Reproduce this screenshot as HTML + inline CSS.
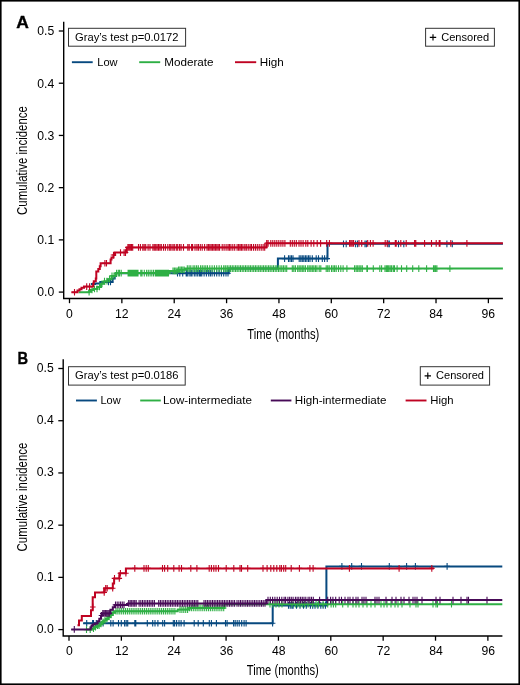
<!DOCTYPE html><html><head><meta charset="utf-8"><style>html,body{margin:0;padding:0;background:#fff;}svg{display:block;will-change:transform;}</style></head><body>
<svg width="520" height="685" viewBox="0 0 520 685" font-family='"Liberation Sans", sans-serif' fill="#000">
<rect x="0" y="0" width="520" height="685" fill="#fff"/>
<rect x="0.8" y="0.8" width="518.4" height="683.4" fill="none" stroke="#000" stroke-width="1.6"/>
<text x="16.2" y="27.5" font-size="17.2" font-weight="bold" textLength="12.6" lengthAdjust="spacingAndGlyphs" stroke="#000" stroke-width="0.35">A</text>
<path d="M63.7 21.7V298.5H502.9" fill="none" stroke="#000" stroke-width="1.4"/>
<path d="M58.8 292.10H63.7" stroke="#000" stroke-width="1.3"/>
<text x="54.3" y="296.40" font-size="12.2" text-anchor="end">0.0</text>
<path d="M58.8 239.88H63.7" stroke="#000" stroke-width="1.3"/>
<text x="54.3" y="244.18" font-size="12.2" text-anchor="end">0.1</text>
<path d="M58.8 187.66H63.7" stroke="#000" stroke-width="1.3"/>
<text x="54.3" y="191.96" font-size="12.2" text-anchor="end">0.2</text>
<path d="M58.8 135.44H63.7" stroke="#000" stroke-width="1.3"/>
<text x="54.3" y="139.74" font-size="12.2" text-anchor="end">0.3</text>
<path d="M58.8 83.22H63.7" stroke="#000" stroke-width="1.3"/>
<text x="54.3" y="87.52" font-size="12.2" text-anchor="end">0.4</text>
<path d="M58.8 31.00H63.7" stroke="#000" stroke-width="1.3"/>
<text x="54.3" y="35.30" font-size="12.2" text-anchor="end">0.5</text>
<path d="M69.50 298.5V303.2" stroke="#000" stroke-width="1.3"/>
<text x="69.50" y="317.6" font-size="12.2" text-anchor="middle">0</text>
<path d="M121.86 298.5V303.2" stroke="#000" stroke-width="1.3"/>
<text x="121.86" y="317.6" font-size="12.2" text-anchor="middle">12</text>
<path d="M174.22 298.5V303.2" stroke="#000" stroke-width="1.3"/>
<text x="174.22" y="317.6" font-size="12.2" text-anchor="middle">24</text>
<path d="M226.58 298.5V303.2" stroke="#000" stroke-width="1.3"/>
<text x="226.58" y="317.6" font-size="12.2" text-anchor="middle">36</text>
<path d="M278.94 298.5V303.2" stroke="#000" stroke-width="1.3"/>
<text x="278.94" y="317.6" font-size="12.2" text-anchor="middle">48</text>
<path d="M331.30 298.5V303.2" stroke="#000" stroke-width="1.3"/>
<text x="331.30" y="317.6" font-size="12.2" text-anchor="middle">60</text>
<path d="M383.66 298.5V303.2" stroke="#000" stroke-width="1.3"/>
<text x="383.66" y="317.6" font-size="12.2" text-anchor="middle">72</text>
<path d="M436.02 298.5V303.2" stroke="#000" stroke-width="1.3"/>
<text x="436.02" y="317.6" font-size="12.2" text-anchor="middle">84</text>
<path d="M488.38 298.5V303.2" stroke="#000" stroke-width="1.3"/>
<text x="488.38" y="317.6" font-size="12.2" text-anchor="middle">96</text>
<text x="283.3" y="338.7" font-size="14.5" text-anchor="middle" textLength="71.9" lengthAdjust="spacingAndGlyphs">Time (months)</text>
<text transform="translate(27.0 160.5) rotate(-90)" font-size="14.6" text-anchor="middle" textLength="108.8" lengthAdjust="spacingAndGlyphs">Cumulative incidence</text>
<rect x="68.5" y="28.3" width="117.1" height="17.900000000000002" fill="#fff" stroke="#333" stroke-width="1"/>
<text x="75.0" y="40.7" font-size="11.6" textLength="103.5" lengthAdjust="spacingAndGlyphs">Gray’s test p=0.0172</text>
<rect x="425.6" y="28.3" width="68.79999999999995" height="17.900000000000002" fill="#fff" stroke="#333" stroke-width="1"/>
<path d="M429.8 37.4h6.4M433.0 34.199999999999996v6.4" stroke="#000" stroke-width="1.15"/>
<text x="441.2" y="40.7" font-size="11.6" textLength="48.0" lengthAdjust="spacingAndGlyphs">Censored</text>
<path d="M71.9 62.2H92.7" stroke="#07497f" stroke-width="1.9"/>
<text x="97.3" y="66.30" font-size="11.6" textLength="20.3" lengthAdjust="spacingAndGlyphs">Low</text>
<path d="M139.2 62.2H160.2" stroke="#2eaf44" stroke-width="1.9"/>
<text x="164.2" y="66.30" font-size="11.6" textLength="49.3" lengthAdjust="spacingAndGlyphs">Moderate</text>
<path d="M235.0 62.2H256.2" stroke="#bf0322" stroke-width="1.9"/>
<text x="259.8" y="66.30" font-size="11.6" textLength="24.0" lengthAdjust="spacingAndGlyphs">High</text>
<path d="M90.9 284.1 L95.1 284.1 L95.1 283.6 L100.3 283.6 L100.3 282.0 L112.6 282.0 L112.6 278.5 L114.7 278.5 L114.7 275.9 L116.0 275.9 L116.0 273.2 L228.8 273.2 L228.8 268.6 L277.9 268.6 L277.9 258.6 L327.5 258.6 L327.5 243.8 L502.9 243.8" fill="none" stroke="#07497f" stroke-width="2.0" stroke-linejoin="miter"/><path d="M108.5 278.6v6.7M105.7 282.0h5.6M110.5 278.6v6.7M107.7 282.0h5.6M177.5 269.8v6.7M174.7 273.2h5.6M179.8 269.8v6.7M177.0 273.2h5.6M182.7 269.8v6.7M179.9 273.2h5.6M186.2 269.8v6.7M183.4 273.2h5.6M187.3 269.8v6.7M184.5 273.2h5.6M189.1 269.8v6.7M186.3 273.2h5.6M190.8 269.8v6.7M188.0 273.2h5.6M192.0 269.8v6.7M189.2 273.2h5.6M194.3 269.8v6.7M191.5 273.2h5.6M196.0 269.8v6.7M193.2 273.2h5.6M197.7 269.8v6.7M194.9 273.2h5.6M199.4 269.8v6.7M196.6 273.2h5.6M200.6 269.8v6.7M197.8 273.2h5.6M201.8 269.8v6.7M199.0 273.2h5.6M204.1 269.8v6.7M201.3 273.2h5.6M206.4 269.8v6.7M203.6 273.2h5.6M208.7 269.8v6.7M205.9 273.2h5.6M210.4 269.8v6.7M207.6 273.2h5.6M212.1 269.8v6.7M209.3 273.2h5.6M214.4 269.8v6.7M211.6 273.2h5.6M216.7 269.8v6.7M213.9 273.2h5.6M219.1 269.8v6.7M216.3 273.2h5.6M221.4 269.8v6.7M218.6 273.2h5.6M223.7 269.8v6.7M220.9 273.2h5.6M226.0 269.8v6.7M223.2 273.2h5.6M228.0 269.8v6.7M225.2 273.2h5.6M284.6 255.3v6.7M281.8 258.6h5.6M288.5 255.3v6.7M285.7 258.6h5.6M290.0 255.3v6.7M287.2 258.6h5.6M291.5 255.3v6.7M288.7 258.6h5.6M293.0 255.3v6.7M290.2 258.6h5.6M299.2 255.3v6.7M296.4 258.6h5.6M300.8 255.3v6.7M298.0 258.6h5.6M302.3 255.3v6.7M299.5 258.6h5.6M303.8 255.3v6.7M301.0 258.6h5.6M305.4 255.3v6.7M302.6 258.6h5.6M306.9 255.3v6.7M304.1 258.6h5.6M308.5 255.3v6.7M305.7 258.6h5.6M310.0 255.3v6.7M307.2 258.6h5.6M312.3 255.3v6.7M309.5 258.6h5.6M316.2 255.3v6.7M313.4 258.6h5.6M318.5 255.3v6.7M315.7 258.6h5.6M322.3 255.3v6.7M319.5 258.6h5.6M324.6 255.3v6.7M321.8 258.6h5.6M327.2 255.3v6.7M324.4 258.6h5.6M343.5 240.5v6.7M340.7 243.8h5.6M346.2 240.5v6.7M343.4 243.8h5.6M355.6 240.5v6.7M352.8 243.8h5.6M357.6 240.5v6.7M354.8 243.8h5.6M365.0 240.5v6.7M362.2 243.8h5.6M366.4 240.5v6.7M363.6 243.8h5.6M387.9 240.5v6.7M385.1 243.8h5.6M389.3 240.5v6.7M386.5 243.8h5.6M398.5 240.5v6.7M395.7 243.8h5.6M403.8 240.5v6.7M401.0 243.8h5.6M446.9 240.5v6.7M444.1 243.8h5.6M452.3 240.5v6.7M449.5 243.8h5.6" stroke="#07497f" stroke-width="1.1"/>
<path d="M78.7 292.3 L89.2 292.3 L89.2 291.0 L91.0 291.0 L91.0 290.0 L93.8 290.0 L93.8 289.0 L97.1 289.0 L97.1 287.0 L101.0 287.0 L101.0 283.8 L104.3 283.8 L104.3 281.2 L107.5 281.2 L107.5 279.2 L111.5 279.2 L111.5 275.9 L115.4 275.9 L115.4 273.5 L116.5 273.5 L116.5 273.1 L169.2 273.1 L169.2 271.0 L178.5 271.0 L178.5 269.8 L185.5 269.8 L185.5 268.6 L502.9 268.6" fill="none" stroke="#2eaf44" stroke-width="2.0" stroke-linejoin="miter"/><path d="M89.1 288.9v6.7M86.3 292.3h5.6M92.0 286.6v6.7M89.2 290.0h5.6M94.5 285.6v6.7M91.7 289.0h5.6M97.0 285.6v6.7M94.2 289.0h5.6M99.5 283.6v6.7M96.7 287.0h5.6M102.0 280.4v6.7M99.2 283.8h5.6M104.5 277.8v6.7M101.7 281.2h5.6M107.0 277.8v6.7M104.2 281.2h5.6M109.5 275.8v6.7M106.7 279.2h5.6M112.0 272.5v6.7M109.2 275.9h5.6M114.0 272.5v6.7M111.2 275.9h5.6M116.6 269.8v6.7M113.8 273.1h5.6M118.3 269.8v6.7M115.5 273.1h5.6M119.5 269.8v6.7M116.7 273.1h5.6M121.2 269.8v6.7M118.4 273.1h5.6M128.1 269.8v6.7M125.3 273.1h5.6M129.2 269.8v6.7M126.4 273.1h5.6M130.3 269.8v6.7M127.5 273.1h5.6M131.4 269.8v6.7M128.6 273.1h5.6M132.5 269.8v6.7M129.7 273.1h5.6M133.6 269.8v6.7M130.8 273.1h5.6M134.7 269.8v6.7M131.9 273.1h5.6M135.8 269.8v6.7M133.0 273.1h5.6M136.9 269.8v6.7M134.1 273.1h5.6M138.0 269.8v6.7M135.2 273.1h5.6M140.8 269.8v6.7M138.0 273.1h5.6M142.0 269.8v6.7M139.2 273.1h5.6M144.3 269.8v6.7M141.5 273.1h5.6M146.6 269.8v6.7M143.8 273.1h5.6M148.3 269.8v6.7M145.5 273.1h5.6M150.1 269.8v6.7M147.3 273.1h5.6M151.8 269.8v6.7M149.0 273.1h5.6M153.5 269.8v6.7M150.7 273.1h5.6M155.3 269.8v6.7M152.5 273.1h5.6M156.4 269.8v6.7M153.6 273.1h5.6M157.5 269.8v6.7M154.7 273.1h5.6M158.6 269.8v6.7M155.8 273.1h5.6M159.7 269.8v6.7M156.9 273.1h5.6M160.8 269.8v6.7M158.0 273.1h5.6M161.9 269.8v6.7M159.1 273.1h5.6M163.0 269.8v6.7M160.2 273.1h5.6M164.1 269.8v6.7M161.3 273.1h5.6M165.2 269.8v6.7M162.4 273.1h5.6M166.3 269.8v6.7M163.5 273.1h5.6M167.4 269.8v6.7M164.6 273.1h5.6M168.5 269.8v6.7M165.7 273.1h5.6M173.0 267.6v6.7M170.2 271.0h5.6M174.4 267.6v6.7M171.6 271.0h5.6M175.8 267.6v6.7M173.0 271.0h5.6M177.2 267.6v6.7M174.4 271.0h5.6M178.6 266.4v6.7M175.8 269.8h5.6M180.0 266.4v6.7M177.2 269.8h5.6M181.4 266.4v6.7M178.6 269.8h5.6M182.8 266.4v6.7M180.0 269.8h5.6M184.2 266.4v6.7M181.4 269.8h5.6M187.3 265.2v6.7M184.5 268.6h5.6M189.1 265.2v6.7M186.3 268.6h5.6M190.8 265.2v6.7M188.0 268.6h5.6M193.1 265.2v6.7M190.3 268.6h5.6M194.8 265.2v6.7M192.0 268.6h5.6M196.6 265.2v6.7M193.8 268.6h5.6M198.3 265.2v6.7M195.5 268.6h5.6M200.6 265.2v6.7M197.8 268.6h5.6M202.3 265.2v6.7M199.5 268.6h5.6M204.1 265.2v6.7M201.3 268.6h5.6M205.8 265.2v6.7M203.0 268.6h5.6M207.5 265.2v6.7M204.7 268.6h5.6M209.8 265.2v6.7M207.0 268.6h5.6M212.1 265.2v6.7M209.3 268.6h5.6M214.4 265.2v6.7M211.6 268.6h5.6M216.7 265.2v6.7M213.9 268.6h5.6M219.1 265.2v6.7M216.3 268.6h5.6M221.4 265.2v6.7M218.6 268.6h5.6M223.7 265.2v6.7M220.9 268.6h5.6M224.0 265.2v6.7M221.2 268.6h5.6M225.7 265.2v6.7M222.8 268.6h5.6M227.3 265.2v6.7M224.5 268.6h5.6M229.0 265.2v6.7M226.2 268.6h5.6M230.6 265.2v6.7M227.8 268.6h5.6M232.3 265.2v6.7M229.5 268.6h5.6M233.9 265.2v6.7M231.1 268.6h5.6M235.6 265.2v6.7M232.8 268.6h5.6M237.2 265.2v6.7M234.4 268.6h5.6M238.9 265.2v6.7M236.1 268.6h5.6M240.5 265.2v6.7M237.7 268.6h5.6M242.2 265.2v6.7M239.4 268.6h5.6M243.8 265.2v6.7M241.0 268.6h5.6M245.5 265.2v6.7M242.7 268.6h5.6M247.1 265.2v6.7M244.3 268.6h5.6M248.8 265.2v6.7M246.0 268.6h5.6M250.4 265.2v6.7M247.6 268.6h5.6M252.1 265.2v6.7M249.3 268.6h5.6M253.7 265.2v6.7M250.9 268.6h5.6M255.4 265.2v6.7M252.6 268.6h5.6M257.0 265.2v6.7M254.2 268.6h5.6M258.7 265.2v6.7M255.9 268.6h5.6M260.3 265.2v6.7M257.5 268.6h5.6M262.0 265.2v6.7M259.2 268.6h5.6M263.6 265.2v6.7M260.8 268.6h5.6M265.3 265.2v6.7M262.5 268.6h5.6M266.9 265.2v6.7M264.1 268.6h5.6M268.6 265.2v6.7M265.8 268.6h5.6M270.2 265.2v6.7M267.4 268.6h5.6M271.9 265.2v6.7M269.1 268.6h5.6M273.5 265.2v6.7M270.7 268.6h5.6M275.2 265.2v6.7M272.4 268.6h5.6M276.8 265.2v6.7M274.0 268.6h5.6M278.5 265.2v6.7M275.7 268.6h5.6M280.1 265.2v6.7M277.3 268.6h5.6M281.8 265.2v6.7M279.0 268.6h5.6M283.4 265.2v6.7M280.6 268.6h5.6M285.1 265.2v6.7M282.3 268.6h5.6M286.7 265.2v6.7M283.9 268.6h5.6M292.3 265.2v6.7M289.5 268.6h5.6M293.8 265.2v6.7M291.0 268.6h5.6M295.4 265.2v6.7M292.6 268.6h5.6M297.7 265.2v6.7M294.9 268.6h5.6M299.2 265.2v6.7M296.4 268.6h5.6M300.8 265.2v6.7M298.0 268.6h5.6M302.3 265.2v6.7M299.5 268.6h5.6M303.8 265.2v6.7M301.0 268.6h5.6M305.4 265.2v6.7M302.6 268.6h5.6M307.7 265.2v6.7M304.9 268.6h5.6M309.2 265.2v6.7M306.4 268.6h5.6M310.8 265.2v6.7M308.0 268.6h5.6M312.3 265.2v6.7M309.5 268.6h5.6M313.8 265.2v6.7M311.0 268.6h5.6M315.4 265.2v6.7M312.6 268.6h5.6M316.9 265.2v6.7M314.1 268.6h5.6M319.2 265.2v6.7M316.4 268.6h5.6M320.8 265.2v6.7M318.0 268.6h5.6M326.2 265.2v6.7M323.4 268.6h5.6M327.7 265.2v6.7M324.9 268.6h5.6M329.2 265.2v6.7M326.4 268.6h5.6M331.5 265.2v6.7M328.7 268.6h5.6M333.1 265.2v6.7M330.3 268.6h5.6M334.6 265.2v6.7M331.8 268.6h5.6M336.2 265.2v6.7M333.4 268.6h5.6M338.5 265.2v6.7M335.7 268.6h5.6M340.8 265.2v6.7M338.0 268.6h5.6M343.1 265.2v6.7M340.3 268.6h5.6M346.9 265.2v6.7M344.1 268.6h5.6M354.6 265.2v6.7M351.8 268.6h5.6M356.2 265.2v6.7M353.4 268.6h5.6M357.7 265.2v6.7M354.9 268.6h5.6M359.2 265.2v6.7M356.4 268.6h5.6M360.8 265.2v6.7M358.0 268.6h5.6M362.3 265.2v6.7M359.5 268.6h5.6M366.9 265.2v6.7M364.1 268.6h5.6M367.4 265.2v6.7M364.6 268.6h5.6M373.3 265.2v6.7M370.5 268.6h5.6M379.8 265.2v6.7M377.0 268.6h5.6M381.6 265.2v6.7M378.8 268.6h5.6M385.0 265.2v6.7M382.2 268.6h5.6M386.4 265.2v6.7M383.6 268.6h5.6M387.6 265.2v6.7M384.8 268.6h5.6M388.8 265.2v6.7M386.0 268.6h5.6M390.2 265.2v6.7M387.4 268.6h5.6M391.6 265.2v6.7M388.8 268.6h5.6M393.3 265.2v6.7M390.5 268.6h5.6M394.5 265.2v6.7M391.7 268.6h5.6M397.1 265.2v6.7M394.3 268.6h5.6M401.5 265.2v6.7M398.7 268.6h5.6M406.7 265.2v6.7M403.9 268.6h5.6M412.7 265.2v6.7M409.9 268.6h5.6M418.8 265.2v6.7M416.0 268.6h5.6M426.6 265.2v6.7M423.8 268.6h5.6M433.5 265.2v6.7M430.7 268.6h5.6M434.3 265.2v6.7M431.5 268.6h5.6M435.6 265.2v6.7M432.8 268.6h5.6M436.9 265.2v6.7M434.1 268.6h5.6M449.9 265.2v6.7M447.1 268.6h5.6" stroke="#2eaf44" stroke-width="1.1"/>
<path d="M71.4 292.3 L77.5 292.3 L77.5 290.6 L79.5 290.6 L79.5 289.2 L81.5 289.2 L81.5 287.8 L84.0 287.8 L84.0 286.6 L93.2 286.6 L93.2 283.5 L93.8 283.5 L93.8 281.2 L95.8 281.2 L95.8 278.5 L96.3 278.5 L96.3 271.5 L98.3 271.5 L98.3 269.0 L99.8 269.0 L99.8 266.2 L100.6 266.2 L100.6 263.3 L110.6 263.3 L110.6 259.5 L111.5 259.5 L111.5 257.5 L113.5 257.5 L113.5 255.0 L115.0 255.0 L115.0 252.5 L126.8 252.5 L126.8 247.4 L266.4 247.4 L266.4 243.3 L502.9 243.3" fill="none" stroke="#bf0322" stroke-width="2.0" stroke-linejoin="miter"/><path d="M74.5 288.9v6.7M71.7 292.3h5.6M86.7 283.2v6.7M83.9 286.6h5.6M89.6 283.2v6.7M86.8 286.6h5.6M104.9 259.9v6.7M102.1 263.3h5.6M106.5 259.9v6.7M103.7 263.3h5.6M113.5 251.7v6.7M110.7 255.0h5.6M120.5 249.2v6.7M117.7 252.5h5.6M124.1 249.2v6.7M121.3 252.5h5.6M125.5 249.2v6.7M122.7 252.5h5.6M127.9 244.1v6.7M125.1 247.4h5.6M129.1 244.1v6.7M126.3 247.4h5.6M130.3 244.1v6.7M127.5 247.4h5.6M131.5 244.1v6.7M128.7 247.4h5.6M132.7 244.1v6.7M129.9 247.4h5.6M138.5 244.1v6.7M135.7 247.4h5.6M140.4 244.1v6.7M137.6 247.4h5.6M142.8 244.1v6.7M140.0 247.4h5.6M144.2 244.1v6.7M141.4 247.4h5.6M145.7 244.1v6.7M142.9 247.4h5.6M148.1 244.1v6.7M145.3 247.4h5.6M150.0 244.1v6.7M147.2 247.4h5.6M152.9 244.1v6.7M150.1 247.4h5.6M154.3 244.1v6.7M151.5 247.4h5.6M155.7 244.1v6.7M152.9 247.4h5.6M157.1 244.1v6.7M154.3 247.4h5.6M158.5 244.1v6.7M155.7 247.4h5.6M159.9 244.1v6.7M157.1 247.4h5.6M161.3 244.1v6.7M158.5 247.4h5.6M163.5 244.1v6.7M160.7 247.4h5.6M165.4 244.1v6.7M162.6 247.4h5.6M167.8 244.1v6.7M165.0 247.4h5.6M169.7 244.1v6.7M166.9 247.4h5.6M171.0 244.1v6.7M168.2 247.4h5.6M172.9 244.1v6.7M170.1 247.4h5.6M174.3 244.1v6.7M171.5 247.4h5.6M176.3 244.1v6.7M173.5 247.4h5.6M177.7 244.1v6.7M174.9 247.4h5.6M179.6 244.1v6.7M176.8 247.4h5.6M181.1 244.1v6.7M178.3 247.4h5.6M183.5 244.1v6.7M180.7 247.4h5.6M187.8 244.1v6.7M185.0 247.4h5.6M189.2 244.1v6.7M186.4 247.4h5.6M191.6 244.1v6.7M188.8 247.4h5.6M192.6 244.1v6.7M189.8 247.4h5.6M195.0 244.1v6.7M192.2 247.4h5.6M196.9 244.1v6.7M194.1 247.4h5.6M198.4 244.1v6.7M195.6 247.4h5.6M200.3 244.1v6.7M197.5 247.4h5.6M202.2 244.1v6.7M199.4 247.4h5.6M204.6 244.1v6.7M201.8 247.4h5.6M207.0 244.1v6.7M204.2 247.4h5.6M208.4 244.1v6.7M205.6 247.4h5.6M209.8 244.1v6.7M207.0 247.4h5.6M211.2 244.1v6.7M208.4 247.4h5.6M212.6 244.1v6.7M209.8 247.4h5.6M214.0 244.1v6.7M211.2 247.4h5.6M215.4 244.1v6.7M212.6 247.4h5.6M216.8 244.1v6.7M214.0 247.4h5.6M218.2 244.1v6.7M215.4 247.4h5.6M219.6 244.1v6.7M216.8 247.4h5.6M222.2 244.1v6.7M219.4 247.4h5.6M224.1 244.1v6.7M221.3 247.4h5.6M226.1 244.1v6.7M223.3 247.4h5.6M228.0 244.1v6.7M225.2 247.4h5.6M229.4 244.1v6.7M226.6 247.4h5.6M230.9 244.1v6.7M228.1 247.4h5.6M232.8 244.1v6.7M230.0 247.4h5.6M234.7 244.1v6.7M231.9 247.4h5.6M237.1 244.1v6.7M234.3 247.4h5.6M238.6 244.1v6.7M235.8 247.4h5.6M240.0 244.1v6.7M237.2 247.4h5.6M241.4 244.1v6.7M238.6 247.4h5.6M242.9 244.1v6.7M240.1 247.4h5.6M244.8 244.1v6.7M242.0 247.4h5.6M246.3 244.1v6.7M243.5 247.4h5.6M248.2 244.1v6.7M245.4 247.4h5.6M250.1 244.1v6.7M247.3 247.4h5.6M251.5 244.1v6.7M248.7 247.4h5.6M253.5 244.1v6.7M250.7 247.4h5.6M255.4 244.1v6.7M252.6 247.4h5.6M257.3 244.1v6.7M254.5 247.4h5.6M259.2 244.1v6.7M256.4 247.4h5.6M261.2 244.1v6.7M258.4 247.4h5.6M263.1 244.1v6.7M260.3 247.4h5.6M264.7 244.1v6.7M261.9 247.4h5.6M266.7 240.0v6.7M263.9 243.3h5.6M268.1 240.0v6.7M265.3 243.3h5.6M270.8 240.0v6.7M268.0 243.3h5.6M272.8 240.0v6.7M270.0 243.3h5.6M274.8 240.0v6.7M272.0 243.3h5.6M276.8 240.0v6.7M274.0 243.3h5.6M278.8 240.0v6.7M276.0 243.3h5.6M280.9 240.0v6.7M278.1 243.3h5.6M282.9 240.0v6.7M280.1 243.3h5.6M284.9 240.0v6.7M282.1 243.3h5.6M290.3 240.0v6.7M287.5 243.3h5.6M292.3 240.0v6.7M289.5 243.3h5.6M294.3 240.0v6.7M291.5 243.3h5.6M296.3 240.0v6.7M293.5 243.3h5.6M299.0 240.0v6.7M296.2 243.3h5.6M301.0 240.0v6.7M298.2 243.3h5.6M303.1 240.0v6.7M300.3 243.3h5.6M305.8 240.0v6.7M303.0 243.3h5.6M307.8 240.0v6.7M305.0 243.3h5.6M311.1 240.0v6.7M308.3 243.3h5.6M313.8 240.0v6.7M311.0 243.3h5.6M317.2 240.0v6.7M314.4 243.3h5.6M320.6 240.0v6.7M317.8 243.3h5.6M326.7 240.0v6.7M323.9 243.3h5.6M329.4 240.0v6.7M326.6 243.3h5.6M349.6 240.0v6.7M346.8 243.3h5.6M350.9 240.0v6.7M348.1 243.3h5.6M352.2 240.0v6.7M349.4 243.3h5.6M353.6 240.0v6.7M350.8 243.3h5.6M359.0 240.0v6.7M356.2 243.3h5.6M361.7 240.0v6.7M358.9 243.3h5.6M367.7 240.0v6.7M364.9 243.3h5.6M370.4 240.0v6.7M367.6 243.3h5.6M373.1 240.0v6.7M370.3 243.3h5.6M385.2 240.0v6.7M382.4 243.3h5.6M387.2 240.0v6.7M384.4 243.3h5.6M395.3 240.0v6.7M392.5 243.3h5.6M396.2 240.0v6.7M393.4 243.3h5.6M400.8 240.0v6.7M398.0 243.3h5.6M406.2 240.0v6.7M403.4 243.3h5.6M414.6 240.0v6.7M411.8 243.3h5.6M415.8 240.0v6.7M413.0 243.3h5.6M424.6 240.0v6.7M421.8 243.3h5.6M431.5 240.0v6.7M428.7 243.3h5.6M436.2 240.0v6.7M433.4 243.3h5.6M439.2 240.0v6.7M436.4 243.3h5.6M440.0 240.0v6.7M437.2 243.3h5.6M450.8 240.0v6.7M448.0 243.3h5.6M466.9 240.0v6.7M464.1 243.3h5.6" stroke="#bf0322" stroke-width="1.1"/>
<text x="17.5" y="363.6" font-size="17.2" font-weight="bold" textLength="10.6" lengthAdjust="spacingAndGlyphs" stroke="#000" stroke-width="0.35">B</text>
<path d="M63.2 359.2V636.0H502.4" fill="none" stroke="#000" stroke-width="1.4"/>
<path d="M58.3 629.60H63.2" stroke="#000" stroke-width="1.3"/>
<text x="53.8" y="633.10" font-size="12.2" text-anchor="end">0.0</text>
<path d="M58.3 577.38H63.2" stroke="#000" stroke-width="1.3"/>
<text x="53.8" y="580.88" font-size="12.2" text-anchor="end">0.1</text>
<path d="M58.3 525.16H63.2" stroke="#000" stroke-width="1.3"/>
<text x="53.8" y="528.66" font-size="12.2" text-anchor="end">0.2</text>
<path d="M58.3 472.94H63.2" stroke="#000" stroke-width="1.3"/>
<text x="53.8" y="476.44" font-size="12.2" text-anchor="end">0.3</text>
<path d="M58.3 420.72H63.2" stroke="#000" stroke-width="1.3"/>
<text x="53.8" y="424.22" font-size="12.2" text-anchor="end">0.4</text>
<path d="M58.3 368.50H63.2" stroke="#000" stroke-width="1.3"/>
<text x="53.8" y="372.00" font-size="12.2" text-anchor="end">0.5</text>
<path d="M69.00 636.0V640.7" stroke="#000" stroke-width="1.3"/>
<text x="69.40" y="655.1" font-size="12.2" text-anchor="middle">0</text>
<path d="M121.36 636.0V640.7" stroke="#000" stroke-width="1.3"/>
<text x="121.76" y="655.1" font-size="12.2" text-anchor="middle">12</text>
<path d="M173.72 636.0V640.7" stroke="#000" stroke-width="1.3"/>
<text x="174.12" y="655.1" font-size="12.2" text-anchor="middle">24</text>
<path d="M226.08 636.0V640.7" stroke="#000" stroke-width="1.3"/>
<text x="226.48" y="655.1" font-size="12.2" text-anchor="middle">36</text>
<path d="M278.44 636.0V640.7" stroke="#000" stroke-width="1.3"/>
<text x="278.84" y="655.1" font-size="12.2" text-anchor="middle">48</text>
<path d="M330.80 636.0V640.7" stroke="#000" stroke-width="1.3"/>
<text x="331.20" y="655.1" font-size="12.2" text-anchor="middle">60</text>
<path d="M383.16 636.0V640.7" stroke="#000" stroke-width="1.3"/>
<text x="383.56" y="655.1" font-size="12.2" text-anchor="middle">72</text>
<path d="M435.52 636.0V640.7" stroke="#000" stroke-width="1.3"/>
<text x="435.92" y="655.1" font-size="12.2" text-anchor="middle">84</text>
<path d="M487.88 636.0V640.7" stroke="#000" stroke-width="1.3"/>
<text x="488.28" y="655.1" font-size="12.2" text-anchor="middle">96</text>
<text x="282.8" y="674.9000000000001" font-size="14.5" text-anchor="middle" textLength="71.9" lengthAdjust="spacingAndGlyphs">Time (months)</text>
<text transform="translate(27.0 497.0) rotate(-90)" font-size="14.6" text-anchor="middle" textLength="108.8" lengthAdjust="spacingAndGlyphs">Cumulative incidence</text>
<rect x="68.5" y="366.7" width="116.69999999999999" height="18.400000000000034" fill="#fff" stroke="#333" stroke-width="1"/>
<text x="75.0" y="378.9" font-size="11.6" textLength="103.5" lengthAdjust="spacingAndGlyphs">Gray’s test p=0.0186</text>
<rect x="420.3" y="366.7" width="69.30000000000001" height="18.400000000000034" fill="#fff" stroke="#333" stroke-width="1"/>
<path d="M424.6 375.8h6.4M427.8 372.6v6.4" stroke="#000" stroke-width="1.15"/>
<text x="436.0" y="378.9" font-size="11.6" textLength="48.0" lengthAdjust="spacingAndGlyphs">Censored</text>
<path d="M76.0 400.5H96.9" stroke="#07497f" stroke-width="1.9"/>
<text x="100.4" y="403.70" font-size="11.6" textLength="20.2" lengthAdjust="spacingAndGlyphs">Low</text>
<path d="M140.2 400.5H160.8" stroke="#2eaf44" stroke-width="1.9"/>
<text x="163.0" y="403.70" font-size="11.6" textLength="89.0" lengthAdjust="spacingAndGlyphs">Low-intermediate</text>
<path d="M270.8 400.5H291.4" stroke="#470a57" stroke-width="1.9"/>
<text x="294.8" y="403.70" font-size="11.6" textLength="91.6" lengthAdjust="spacingAndGlyphs">High-intermediate</text>
<path d="M405.6 400.5H426.5" stroke="#bf0322" stroke-width="1.9"/>
<text x="430.3" y="403.70" font-size="11.6" textLength="23.3" lengthAdjust="spacingAndGlyphs">High</text>
<path d="M83.1 623.3 L272.7 623.3 L272.7 605.4 L326.4 605.4 L326.4 566.4 L502.3 566.4" fill="none" stroke="#07497f" stroke-width="2.0" stroke-linejoin="miter"/><path d="M86.7 619.9v6.7M83.9 623.3h5.6M92.6 619.9v6.7M89.8 623.3h5.6M93.5 619.9v6.7M90.7 623.3h5.6M96.3 619.9v6.7M93.5 623.3h5.6M103.1 619.9v6.7M100.3 623.3h5.6M110.8 619.9v6.7M108.0 623.3h5.6M113.1 619.9v6.7M110.3 623.3h5.6M118.5 619.9v6.7M115.7 623.3h5.6M121.3 619.9v6.7M118.5 623.3h5.6M124.6 619.9v6.7M121.8 623.3h5.6M126.2 619.9v6.7M123.4 623.3h5.6M127.7 619.9v6.7M124.9 623.3h5.6M134.8 619.9v6.7M132.0 623.3h5.6M135.8 619.9v6.7M133.0 623.3h5.6M147.3 619.9v6.7M144.5 623.3h5.6M152.7 619.9v6.7M149.9 623.3h5.6M155.0 619.9v6.7M152.2 623.3h5.6M157.9 619.9v6.7M155.1 623.3h5.6M162.7 619.9v6.7M159.9 623.3h5.6M164.6 619.9v6.7M161.8 623.3h5.6M173.3 619.9v6.7M170.5 623.3h5.6M174.6 619.9v6.7M171.8 623.3h5.6M176.6 619.9v6.7M173.8 623.3h5.6M179.0 619.9v6.7M176.2 623.3h5.6M181.1 619.9v6.7M178.3 623.3h5.6M184.1 619.9v6.7M181.3 623.3h5.6M194.2 619.9v6.7M191.4 623.3h5.6M198.2 619.9v6.7M195.4 623.3h5.6M203.3 619.9v6.7M200.5 623.3h5.6M209.3 619.9v6.7M206.5 623.3h5.6M211.4 619.9v6.7M208.6 623.3h5.6M216.4 619.9v6.7M213.6 623.3h5.6M225.5 619.9v6.7M222.7 623.3h5.6M227.1 619.9v6.7M224.3 623.3h5.6M233.6 619.9v6.7M230.8 623.3h5.6M235.2 619.9v6.7M232.4 623.3h5.6M237.2 619.9v6.7M234.4 623.3h5.6M239.2 619.9v6.7M236.4 623.3h5.6M241.7 619.9v6.7M238.9 623.3h5.6M244.1 619.9v6.7M241.3 623.3h5.6M246.1 619.9v6.7M243.3 623.3h5.6M272.6 619.9v6.7M269.8 623.3h5.6M288.5 602.0v6.7M285.7 605.4h5.6M290.2 602.0v6.7M287.4 605.4h5.6M291.9 602.0v6.7M289.1 605.4h5.6M293.1 602.0v6.7M290.3 605.4h5.6M296.5 602.0v6.7M293.7 605.4h5.6M300.0 602.0v6.7M297.2 605.4h5.6M303.5 602.0v6.7M300.7 605.4h5.6M306.3 602.0v6.7M303.5 605.4h5.6M310.4 602.0v6.7M307.6 605.4h5.6M312.7 602.0v6.7M309.9 605.4h5.6M315.0 602.0v6.7M312.2 605.4h5.6M317.9 602.0v6.7M315.1 605.4h5.6M320.8 602.0v6.7M318.0 605.4h5.6M323.1 602.0v6.7M320.3 605.4h5.6M325.4 602.0v6.7M322.6 605.4h5.6M341.9 563.0v6.7M339.1 566.4h5.6M351.7 563.0v6.7M348.9 566.4h5.6M361.5 563.0v6.7M358.7 566.4h5.6M389.3 563.0v6.7M386.5 566.4h5.6M406.6 563.0v6.7M403.8 566.4h5.6M415.4 563.0v6.7M412.6 566.4h5.6M447.1 563.0v6.7M444.3 566.4h5.6" stroke="#07497f" stroke-width="1.1"/>
<path d="M86.0 629.6 L92.0 629.6 L92.0 628.8 L94.5 628.8 L94.5 627.1 L97.5 627.1 L97.5 625.8 L100.0 625.8 L100.0 624.0 L102.0 624.0 L102.0 622.0 L104.0 622.0 L104.0 620.5 L106.0 620.5 L106.0 619.0 L108.3 619.0 L108.3 617.0 L110.4 617.0 L110.4 615.0 L112.5 615.0 L112.5 612.8 L114.8 612.8 L114.8 611.2 L177.7 611.2 L177.7 609.6 L189.2 609.6 L189.2 608.0 L224.6 608.0 L224.6 604.3 L502.3 604.3" fill="none" stroke="#2eaf44" stroke-width="2.0" stroke-linejoin="miter"/><path d="M86.5 626.2v6.7M83.7 629.6h5.6M90.2 626.2v6.7M87.4 629.6h5.6M93.5 625.4v6.7M90.7 628.8h5.6M95.5 623.8v6.7M92.7 627.1h5.6M97.5 622.4v6.7M94.7 625.8h5.6M99.1 622.4v6.7M96.3 625.8h5.6M101.0 620.6v6.7M98.2 624.0h5.6M103.0 618.6v6.7M100.2 622.0h5.6M105.0 617.1v6.7M102.2 620.5h5.6M107.0 615.6v6.7M104.2 619.0h5.6M109.0 613.6v6.7M106.2 617.0h5.6M111.0 611.6v6.7M108.2 615.0h5.6M113.0 609.4v6.7M110.2 612.8h5.6M116.0 607.9v6.7M113.2 611.2h5.6M117.9 607.9v6.7M115.1 611.2h5.6M119.8 607.9v6.7M117.0 611.2h5.6M121.7 607.9v6.7M118.9 611.2h5.6M123.6 607.9v6.7M120.8 611.2h5.6M125.5 607.9v6.7M122.7 611.2h5.6M127.4 607.9v6.7M124.6 611.2h5.6M129.3 607.9v6.7M126.5 611.2h5.6M131.2 607.9v6.7M128.4 611.2h5.6M133.1 607.9v6.7M130.3 611.2h5.6M135.0 607.9v6.7M132.2 611.2h5.6M136.9 607.9v6.7M134.1 611.2h5.6M138.8 607.9v6.7M136.0 611.2h5.6M140.7 607.9v6.7M137.9 611.2h5.6M142.6 607.9v6.7M139.8 611.2h5.6M144.5 607.9v6.7M141.7 611.2h5.6M146.4 607.9v6.7M143.6 611.2h5.6M148.3 607.9v6.7M145.5 611.2h5.6M150.2 607.9v6.7M147.4 611.2h5.6M152.1 607.9v6.7M149.3 611.2h5.6M154.0 607.9v6.7M151.2 611.2h5.6M155.9 607.9v6.7M153.1 611.2h5.6M157.8 607.9v6.7M155.0 611.2h5.6M159.7 607.9v6.7M156.9 611.2h5.6M161.6 607.9v6.7M158.8 611.2h5.6M163.5 607.9v6.7M160.7 611.2h5.6M165.4 607.9v6.7M162.6 611.2h5.6M167.3 607.9v6.7M164.5 611.2h5.6M169.2 607.9v6.7M166.4 611.2h5.6M171.1 607.9v6.7M168.3 611.2h5.6M173.0 607.9v6.7M170.2 611.2h5.6M174.9 607.9v6.7M172.1 611.2h5.6M180.0 606.2v6.7M177.2 609.6h5.6M181.9 606.2v6.7M179.1 609.6h5.6M183.8 606.2v6.7M181.0 609.6h5.6M185.7 606.2v6.7M182.9 609.6h5.6M187.6 606.2v6.7M184.8 609.6h5.6M189.5 604.6v6.7M186.7 608.0h5.6M191.4 604.6v6.7M188.6 608.0h5.6M193.3 604.6v6.7M190.5 608.0h5.6M195.2 604.6v6.7M192.4 608.0h5.6M197.1 604.6v6.7M194.3 608.0h5.6M199.0 604.6v6.7M196.2 608.0h5.6M200.9 604.6v6.7M198.1 608.0h5.6M202.8 604.6v6.7M200.0 608.0h5.6M204.7 604.6v6.7M201.9 608.0h5.6M206.6 604.6v6.7M203.8 608.0h5.6M208.5 604.6v6.7M205.7 608.0h5.6M210.4 604.6v6.7M207.6 608.0h5.6M212.3 604.6v6.7M209.5 608.0h5.6M214.2 604.6v6.7M211.4 608.0h5.6M216.1 604.6v6.7M213.3 608.0h5.6M218.0 604.6v6.7M215.2 608.0h5.6M219.9 604.6v6.7M217.1 608.0h5.6M221.8 604.6v6.7M219.0 608.0h5.6M223.7 604.6v6.7M220.9 608.0h5.6M270.0 600.9v6.7M267.2 604.3h5.6M273.0 600.9v6.7M270.2 604.3h5.6M276.0 600.9v6.7M273.2 604.3h5.6M279.0 600.9v6.7M276.2 604.3h5.6M282.0 600.9v6.7M279.2 604.3h5.6M292.0 600.9v6.7M289.2 604.3h5.6M295.4 600.9v6.7M292.6 604.3h5.6M297.7 600.9v6.7M294.9 604.3h5.6M300.0 600.9v6.7M297.2 604.3h5.6M302.3 600.9v6.7M299.5 604.3h5.6M304.6 600.9v6.7M301.8 604.3h5.6M308.1 600.9v6.7M305.3 604.3h5.6M312.7 600.9v6.7M309.9 604.3h5.6M316.1 600.9v6.7M313.3 604.3h5.6M318.4 600.9v6.7M315.6 604.3h5.6M323.1 600.9v6.7M320.3 604.3h5.6M327.7 600.9v6.7M324.9 604.3h5.6M331.1 600.9v6.7M328.3 604.3h5.6M333.4 600.9v6.7M330.6 604.3h5.6M335.7 600.9v6.7M332.9 604.3h5.6M342.7 600.9v6.7M339.9 604.3h5.6M348.0 600.9v6.7M345.2 604.3h5.6M353.0 600.9v6.7M350.2 604.3h5.6M356.0 600.9v6.7M353.2 604.3h5.6M359.0 600.9v6.7M356.2 604.3h5.6M363.0 600.9v6.7M360.2 604.3h5.6M367.0 600.9v6.7M364.2 604.3h5.6M371.0 600.9v6.7M368.2 604.3h5.6M375.0 600.9v6.7M372.2 604.3h5.6M381.0 600.9v6.7M378.2 604.3h5.6M384.0 600.9v6.7M381.2 604.3h5.6M387.0 600.9v6.7M384.2 604.3h5.6M391.0 600.9v6.7M388.2 604.3h5.6M395.0 600.9v6.7M392.2 604.3h5.6M398.0 600.9v6.7M395.2 604.3h5.6M402.0 600.9v6.7M399.2 604.3h5.6M410.0 600.9v6.7M407.2 604.3h5.6M416.0 600.9v6.7M413.2 604.3h5.6M418.0 600.9v6.7M415.2 604.3h5.6M433.0 600.9v6.7M430.2 604.3h5.6M436.0 600.9v6.7M433.2 604.3h5.6M437.5 600.9v6.7M434.7 604.3h5.6M451.5 600.9v6.7M448.7 604.3h5.6" stroke="#2eaf44" stroke-width="1.1"/>
<path d="M71.2 629.5 L90.6 629.5 L90.6 627.5 L91.5 627.5 L91.5 625.8 L92.5 625.8 L92.5 624.6 L94.7 624.6 L94.7 623.4 L97.5 623.4 L97.5 621.2 L99.3 621.2 L99.3 618.8 L101.0 618.8 L101.0 615.5 L102.3 615.5 L102.3 613.4 L110.4 613.4 L110.4 609.8 L112.8 609.8 L112.8 607.2 L114.8 607.2 L114.8 604.9 L128.0 604.9 L128.0 603.5 L266.5 603.5 L266.5 600.1 L502.3 600.1" fill="none" stroke="#470a57" stroke-width="2.0" stroke-linejoin="miter"/><path d="M74.3 626.1v6.7M71.5 629.5h5.6M101.5 612.1v6.7M98.7 615.5h5.6M102.8 610.0v6.7M100.0 613.4h5.6M104.1 610.0v6.7M101.3 613.4h5.6M105.4 610.0v6.7M102.6 613.4h5.6M106.7 610.0v6.7M103.9 613.4h5.6M108.0 610.0v6.7M105.2 613.4h5.6M109.3 610.0v6.7M106.5 613.4h5.6M115.5 601.5v6.7M112.7 604.9h5.6M117.2 601.5v6.7M114.4 604.9h5.6M118.9 601.5v6.7M116.1 604.9h5.6M120.6 601.5v6.7M117.8 604.9h5.6M122.3 601.5v6.7M119.5 604.9h5.6M124.0 601.5v6.7M121.2 604.9h5.6M128.7 600.1v6.7M125.9 603.5h5.6M130.2 600.1v6.7M127.4 603.5h5.6M131.7 600.1v6.7M128.9 603.5h5.6M133.2 600.1v6.7M130.4 603.5h5.6M134.7 600.1v6.7M131.9 603.5h5.6M136.2 600.1v6.7M133.4 603.5h5.6M139.1 600.1v6.7M136.3 603.5h5.6M140.8 600.1v6.7M138.0 603.5h5.6M142.5 600.1v6.7M139.7 603.5h5.6M144.2 600.1v6.7M141.4 603.5h5.6M145.9 600.1v6.7M143.1 603.5h5.6M147.6 600.1v6.7M144.8 603.5h5.6M149.3 600.1v6.7M146.5 603.5h5.6M151.0 600.1v6.7M148.2 603.5h5.6M152.7 600.1v6.7M149.9 603.5h5.6M154.4 600.1v6.7M151.6 603.5h5.6M158.7 600.1v6.7M155.9 603.5h5.6M160.4 600.1v6.7M157.6 603.5h5.6M162.1 600.1v6.7M159.3 603.5h5.6M163.8 600.1v6.7M161.0 603.5h5.6M165.5 600.1v6.7M162.7 603.5h5.6M167.2 600.1v6.7M164.4 603.5h5.6M168.9 600.1v6.7M166.1 603.5h5.6M170.6 600.1v6.7M167.8 603.5h5.6M172.3 600.1v6.7M169.5 603.5h5.6M174.0 600.1v6.7M171.2 603.5h5.6M175.7 600.1v6.7M172.9 603.5h5.6M177.4 600.1v6.7M174.6 603.5h5.6M179.1 600.1v6.7M176.3 603.5h5.6M180.8 600.1v6.7M178.0 603.5h5.6M182.5 600.1v6.7M179.7 603.5h5.6M184.2 600.1v6.7M181.4 603.5h5.6M185.9 600.1v6.7M183.1 603.5h5.6M187.6 600.1v6.7M184.8 603.5h5.6M189.3 600.1v6.7M186.5 603.5h5.6M191.0 600.1v6.7M188.2 603.5h5.6M192.7 600.1v6.7M189.9 603.5h5.6M194.4 600.1v6.7M191.6 603.5h5.6M196.1 600.1v6.7M193.3 603.5h5.6M197.8 600.1v6.7M195.0 603.5h5.6M204.0 600.1v6.7M201.2 603.5h5.6M205.7 600.1v6.7M202.9 603.5h5.6M207.4 600.1v6.7M204.6 603.5h5.6M209.1 600.1v6.7M206.3 603.5h5.6M210.8 600.1v6.7M208.0 603.5h5.6M212.5 600.1v6.7M209.7 603.5h5.6M214.2 600.1v6.7M211.4 603.5h5.6M215.9 600.1v6.7M213.1 603.5h5.6M217.6 600.1v6.7M214.8 603.5h5.6M219.3 600.1v6.7M216.5 603.5h5.6M221.0 600.1v6.7M218.2 603.5h5.6M222.7 600.1v6.7M219.9 603.5h5.6M224.4 600.1v6.7M221.6 603.5h5.6M226.1 600.1v6.7M223.3 603.5h5.6M227.8 600.1v6.7M225.0 603.5h5.6M229.5 600.1v6.7M226.7 603.5h5.6M231.2 600.1v6.7M228.4 603.5h5.6M232.9 600.1v6.7M230.1 603.5h5.6M234.6 600.1v6.7M231.8 603.5h5.6M237.0 600.1v6.7M234.2 603.5h5.6M238.8 600.1v6.7M235.9 603.5h5.6M240.5 600.1v6.7M237.7 603.5h5.6M242.2 600.1v6.7M239.4 603.5h5.6M244.0 600.1v6.7M241.2 603.5h5.6M245.8 600.1v6.7M242.9 603.5h5.6M247.5 600.1v6.7M244.7 603.5h5.6M249.2 600.1v6.7M246.4 603.5h5.6M251.0 600.1v6.7M248.2 603.5h5.6M252.8 600.1v6.7M249.9 603.5h5.6M254.5 600.1v6.7M251.7 603.5h5.6M256.2 600.1v6.7M253.4 603.5h5.6M258.0 600.1v6.7M255.2 603.5h5.6M259.8 600.1v6.7M256.9 603.5h5.6M261.5 600.1v6.7M258.7 603.5h5.6M263.2 600.1v6.7M260.4 603.5h5.6M265.0 600.1v6.7M262.2 603.5h5.6M268.0 596.8v6.7M265.2 600.1h5.6M270.3 596.8v6.7M267.5 600.1h5.6M272.6 596.8v6.7M269.8 600.1h5.6M274.9 596.8v6.7M272.1 600.1h5.6M277.2 596.8v6.7M274.4 600.1h5.6M279.5 596.8v6.7M276.7 600.1h5.6M281.8 596.8v6.7M279.0 600.1h5.6M284.1 596.8v6.7M281.3 600.1h5.6M285.6 596.8v6.7M282.8 600.1h5.6M287.9 596.8v6.7M285.1 600.1h5.6M289.6 596.8v6.7M286.8 600.1h5.6M291.3 596.8v6.7M288.5 600.1h5.6M293.1 596.8v6.7M290.3 600.1h5.6M295.4 596.8v6.7M292.6 600.1h5.6M297.1 596.8v6.7M294.3 600.1h5.6M298.8 596.8v6.7M296.0 600.1h5.6M300.6 596.8v6.7M297.8 600.1h5.6M302.3 596.8v6.7M299.5 600.1h5.6M304.0 596.8v6.7M301.2 600.1h5.6M305.8 596.8v6.7M303.0 600.1h5.6M308.1 596.8v6.7M305.3 600.1h5.6M309.8 596.8v6.7M307.0 600.1h5.6M311.5 596.8v6.7M308.7 600.1h5.6M313.3 596.8v6.7M310.5 600.1h5.6M319.6 596.8v6.7M316.8 600.1h5.6M327.7 596.8v6.7M324.9 600.1h5.6M330.6 596.8v6.7M327.8 600.1h5.6M332.9 596.8v6.7M330.1 600.1h5.6M335.7 596.8v6.7M332.9 600.1h5.6M339.2 596.8v6.7M336.4 600.1h5.6M341.5 596.8v6.7M338.7 600.1h5.6M345.0 596.8v6.7M342.2 600.1h5.6M348.0 596.8v6.7M345.2 600.1h5.6M350.0 596.8v6.7M347.2 600.1h5.6M353.0 596.8v6.7M350.2 600.1h5.6M356.0 596.8v6.7M353.2 600.1h5.6M358.0 596.8v6.7M355.2 600.1h5.6M362.0 596.8v6.7M359.2 600.1h5.6M364.0 596.8v6.7M361.2 600.1h5.6M366.0 596.8v6.7M363.2 600.1h5.6M375.0 596.8v6.7M372.2 600.1h5.6M377.0 596.8v6.7M374.2 600.1h5.6M379.0 596.8v6.7M376.2 600.1h5.6M386.0 596.8v6.7M383.2 600.1h5.6M392.0 596.8v6.7M389.2 600.1h5.6M396.0 596.8v6.7M393.2 600.1h5.6M401.0 596.8v6.7M398.2 600.1h5.6M404.0 596.8v6.7M401.2 600.1h5.6M409.0 596.8v6.7M406.2 600.1h5.6M413.0 596.8v6.7M410.2 600.1h5.6M415.0 596.8v6.7M412.2 600.1h5.6M417.0 596.8v6.7M414.2 600.1h5.6M422.0 596.8v6.7M419.2 600.1h5.6M436.0 596.8v6.7M433.2 600.1h5.6M440.0 596.8v6.7M437.2 600.1h5.6M453.0 596.8v6.7M450.2 600.1h5.6M461.0 596.8v6.7M458.2 600.1h5.6M467.0 596.8v6.7M464.2 600.1h5.6M468.5 596.8v6.7M465.7 600.1h5.6M487.0 596.8v6.7M484.2 600.1h5.6" stroke="#470a57" stroke-width="1.1"/>
<path d="M77.5 625.3 L79.0 625.3 L79.0 620.4 L81.8 620.4 L81.8 615.9 L91.0 615.9 L91.0 610.3 L92.7 610.3 L92.7 597.2 L95.0 597.2 L95.0 592.4 L104.2 592.4 L104.2 588.3 L112.8 588.3 L112.8 583.4 L114.1 583.4 L114.1 578.4 L119.4 578.4 L119.4 573.3 L125.9 573.3 L125.9 568.4 L433.8 568.4" fill="none" stroke="#bf0322" stroke-width="2.0" stroke-linejoin="miter"/><path d="M92.8 603.6v6.7M90.0 607.0h5.6M104.2 589.0v6.7M101.4 592.4h5.6M105.7 584.9v6.7M102.9 588.3h5.6M107.2 584.9v6.7M104.4 588.3h5.6M112.7 584.9v6.7M109.9 588.3h5.6M114.5 575.0v6.7M111.7 578.4h5.6M119.3 575.0v6.7M116.5 578.4h5.6M120.4 569.9v6.7M117.6 573.3h5.6M125.9 569.9v6.7M123.1 573.3h5.6M134.8 565.0v6.7M132.0 568.4h5.6M144.0 565.0v6.7M141.2 568.4h5.6M146.2 565.0v6.7M143.4 568.4h5.6M148.3 565.0v6.7M145.5 568.4h5.6M162.5 565.0v6.7M159.7 568.4h5.6M164.6 565.0v6.7M161.8 568.4h5.6M167.7 565.0v6.7M164.9 568.4h5.6M173.8 565.0v6.7M171.0 568.4h5.6M179.1 565.0v6.7M176.3 568.4h5.6M181.5 565.0v6.7M178.7 568.4h5.6M190.8 565.0v6.7M188.0 568.4h5.6M196.9 565.0v6.7M194.1 568.4h5.6M209.2 565.0v6.7M206.4 568.4h5.6M211.4 565.0v6.7M208.6 568.4h5.6M213.8 565.0v6.7M211.0 568.4h5.6M216.0 565.0v6.7M213.2 568.4h5.6M218.5 565.0v6.7M215.7 568.4h5.6M226.2 565.0v6.7M223.4 568.4h5.6M233.8 565.0v6.7M231.0 568.4h5.6M240.0 565.0v6.7M237.2 568.4h5.6M241.5 565.0v6.7M238.7 568.4h5.6M247.7 565.0v6.7M244.9 568.4h5.6M263.0 565.0v6.7M260.2 568.4h5.6M267.1 565.0v6.7M264.3 568.4h5.6M270.8 565.0v6.7M268.0 568.4h5.6M273.8 565.0v6.7M271.0 568.4h5.6M276.8 565.0v6.7M274.0 568.4h5.6M279.8 565.0v6.7M277.0 568.4h5.6M281.4 565.0v6.7M278.6 568.4h5.6M283.7 565.0v6.7M280.9 568.4h5.6M285.7 565.0v6.7M282.9 568.4h5.6M291.2 565.0v6.7M288.4 568.4h5.6M299.4 565.0v6.7M296.6 568.4h5.6M309.9 565.0v6.7M307.1 568.4h5.6M313.1 565.0v6.7M310.3 568.4h5.6M349.4 565.0v6.7M346.6 568.4h5.6M399.1 565.0v6.7M396.3 568.4h5.6M431.8 565.0v6.7M429.0 568.4h5.6" stroke="#bf0322" stroke-width="1.1"/>
</svg></body></html>
